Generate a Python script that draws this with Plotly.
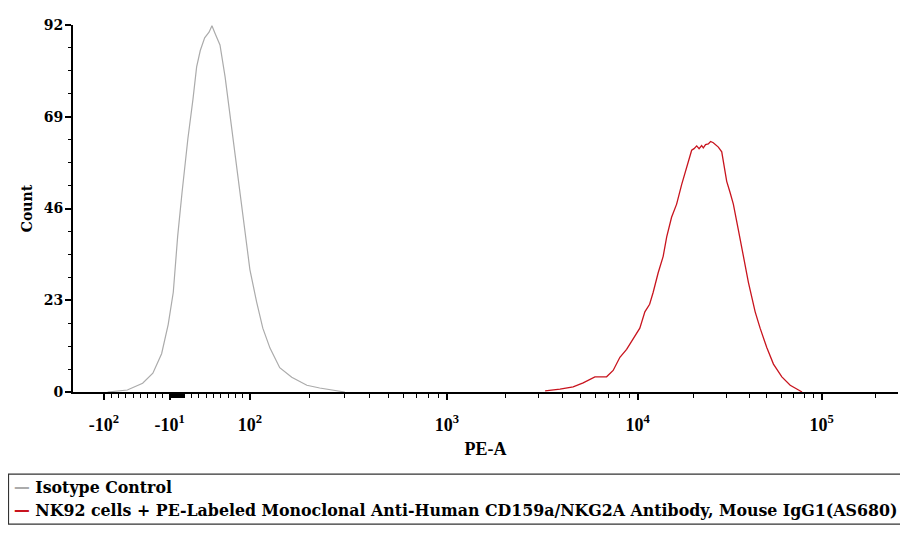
import math
import plotly.graph_objects as go

# ---------------- data (PE-A value, event count) ----------------
iso_pe = [-95, -68, -47, -33, -21, -12, -5, 1, 7, 11, 15, 22, 27, 32, 38, 44, 48,
          52, 55, 59, 66, 73, 79, 86, 93, 100, 108, 116, 126, 141, 162, 193, 224, 260, 300]
iso_count = [0.0, 0.5, 2.2, 4.7, 9.6, 16.9, 25.0, 39.0, 50.0, 57.7, 63.5, 73.4, 81.5,
             85.6, 88.8, 90.2, 91.8, 90.0, 88.8, 87.0, 79.0, 69.2, 60.0, 50.3, 39.7,
             30.7, 22.6, 16.0, 11.0, 6.1, 3.7, 1.7, 1.0, 0.5, 0.0]

ab_pe = [3240, 3880, 4550, 5140, 5930, 6840, 7410, 8050, 8740, 9290, 10280, 10940,
         11600, 12120, 12890, 13710, 14320, 15210, 16190, 17230, 18330, 19000, 19510,
         20100, 20770, 21400, 22090, 22550, 23200, 23990, 24700, 25540, 26300, 27200,
         28380, 29200, 30200, 31500, 32810, 34960, 37220, 39630, 43150, 45920, 50000,
         54330, 60410, 67140, 74640, 78000]
ab_count = [0.3, 0.7, 1.3, 2.3, 3.8, 3.8, 5.4, 8.7, 10.7, 12.8, 16.0, 20.1,
            22.0, 25.0, 29.9, 34.0, 38.9, 43.8, 47.1, 52.0, 56.1, 58.5, 60.6,
            61.0, 61.7, 61.0, 61.8, 61.2, 62.0, 62.2, 62.8, 62.5, 61.9, 61.4,
            60.2, 56.5, 52.8, 50.0, 47.1, 40.6, 34.0, 27.5, 20.1, 16.0, 11.1,
            7.0, 3.8, 1.7, 0.5, 0.0]

series_names = [
    "Isotype Control",
    "NK92 cells + PE-Labeled Monoclonal Anti-Human CD159a/NKG2A Antibody, Mouse IgG1(AS680)",
]
series_colors = ["#ababab", "#c8141e"]

major_ticks = [-100, -10, 100, 1000, 10000, 100000]
major_labels = ["-10<sup>2</sup>", "-10<sup>1</sup>", "10<sup>2</sup>",
                "10<sup>3</sup>", "10<sup>4</sup>", "10<sup>5</sup>"]
minor_ticks = ([-v for v in range(20, 100, 10)] + list(range(-9, 11)) +
               list(range(20, 100, 10)) + list(range(200, 1000, 100)) +
               list(range(2000, 10000, 1000)) + list(range(20000, 100000, 10000)) +
               [200000])
y_ticks = [0, 23, 46, 69, 92]


# ---------------- biexponential-like display scale ----------------
def disp(x):
    a = abs(x)
    if a <= 100:
        d = 0.384 * a / 100.0
    else:
        u = math.log10(a) - 2.0
        d = 0.384 + 1.0547 * u - 0.01726 * u * u
    return d if x >= 0 else -d


X_RANGE = [-0.547, 3.795]

fig = go.Figure()
fig.add_trace(go.Scatter(x=[disp(v) for v in iso_pe], y=iso_count, mode="lines",
                         line=dict(color=series_colors[0], width=1.2),
                         name=series_names[0], showlegend=False))
fig.add_trace(go.Scatter(x=[disp(v) for v in ab_pe], y=ab_count, mode="lines",
                         line=dict(color=series_colors[1], width=1.3),
                         name=series_names[1], showlegend=False))

times = "Liberation Serif"
wide = "DejaVu Serif"

fig.update_xaxes(
    range=X_RANGE, showgrid=False, zeroline=False,
    showline=True, linecolor="black", linewidth=2,
    ticks="outside", ticklen=6, tickwidth=1.5, tickcolor="black",
    tickmode="array", tickvals=[disp(v) for v in major_ticks], ticktext=major_labels,
    tickfont=dict(family=times, size=18, color="black", weight="bold"),
    ticklabelstandoff=9,
    minor=dict(tickmode="array", tickvals=[disp(v) for v in minor_ticks],
               ticks="outside", ticklen=4, tickwidth=1.2, tickcolor="black"),
    title=dict(text="PE-A", font=dict(family=times, size=18, color="black", weight="bold"),
               standoff=9),
)
fig.update_yaxes(
    range=[0, 92], showgrid=False, zeroline=False,
    showline=True, linecolor="black", linewidth=2,
    ticks="outside", ticklen=6, tickwidth=1.5, tickcolor="black",
    tickmode="array", tickvals=y_ticks, ticktext=[str(v) for v in y_ticks],
    tickfont=dict(family=wide, size=14, color="black", weight="bold"),
    ticklabelstandoff=-1,
    minor=dict(tick0=0, dtick=5.75, ticks="outside", ticklen=3, tickwidth=1, tickcolor="black"),
    title=dict(text="Count", font=dict(family=wide, size=14, color="black", weight="bold"),
               standoff=8),
)

# page has an 8px body margin; figure coordinates below are page pixels minus 8
W, H = 900, 525
PL, PR, PT, PB = 65, 890, 9, 384
def px(p):
    return (p - PL) / (PR - PL)
def py(q):
    return (PB - q) / (PB - PT)

fig.add_shape(type="rect", xref="paper", yref="paper",
              x0=px(0.5), x1=px(898), y0=py(468), y1=py(519),
              line=dict(color="#333333", width=1.2), fillcolor="white")
for i, (nm, col) in enumerate(zip(series_names, series_colors)):
    fig.add_annotation(
        xref="paper", yref="paper", x=px(4), y=py(482 + 23 * i),
        xanchor="left", yanchor="middle", showarrow=False,
        text=f"<span style='color:{col}'>\u2014</span> {nm}",
        font=dict(family=wide, size=15.8, color="black", weight="bold"),
    )

fig.update_layout(
    width=W, height=H,
    margin=dict(l=PL, r=W - PR, t=PT, b=H - PB),
    paper_bgcolor="white", plot_bgcolor="white",
    showlegend=False,
)

fig.write_html("out.html")
